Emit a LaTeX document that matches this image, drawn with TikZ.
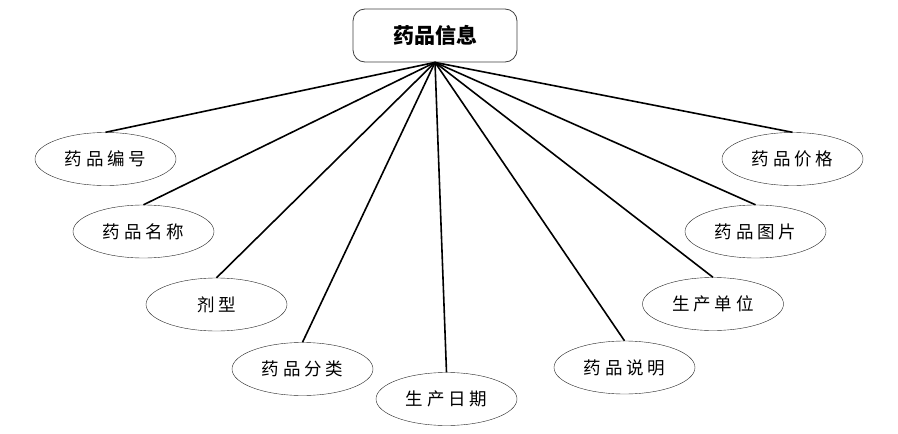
\documentclass[tikz,border=0pt]{standalone}
\usepackage{fontspec}
\setmainfont{Noto Sans CJK SC}
\newfontfamily\attrfont[LetterSpace=22]{Noto Sans CJK SC}
\usetikzlibrary{shapes.geometric}
\tikzset{
    entity/.style={rectangle, rounded corners=12pt, draw=black!75, thick, fill=white, minimum width=164pt, minimum height=53pt, inner sep=0pt, font=\fontsize{21}{25}\selectfont\bfseries},
    attr/.style={ellipse, draw=black!85, fill=white, minimum width=141pt, minimum height=53pt, inner sep=0pt, font=\attrfont\fontsize{17.5}{21}\selectfont},
    link/.style={line width=1.6pt, draw=black},
}
\begin{document}
\begin{tikzpicture}[x=1pt, y=-1pt]
    \useasboundingbox (0,0) rectangle (898,434);
    % entity
    \node[entity] (drug) at (435,35.5) {药品信息};
    % attributes, left side
    \node[attr] (code) at (105.5,159) {药品编号};
    \node[attr] (name) at (143.5,231.5) {药品名称};
    \node[attr] (form) at (216.5,304.5) {剂型};
    \node[attr] (kind) at (302.5,369) {药品分类};
    \node[attr] (made) at (446.5,399) {生产日期};
    % attributes, right side
    \node[attr] (note) at (624.5,367.5) {药品说明};
    \node[attr] (maker) at (713,304) {生产单位};
    \node[attr] (photo) at (755.5,231.5) {药品图片};
    \node[attr] (price) at (792.5,159) {药品价格};

    \foreach \a in {code, name, form, kind, made, note, maker, photo, price}
        \draw[link] (drug.south) -- (\a.north);
\end{tikzpicture}
\end{document}
